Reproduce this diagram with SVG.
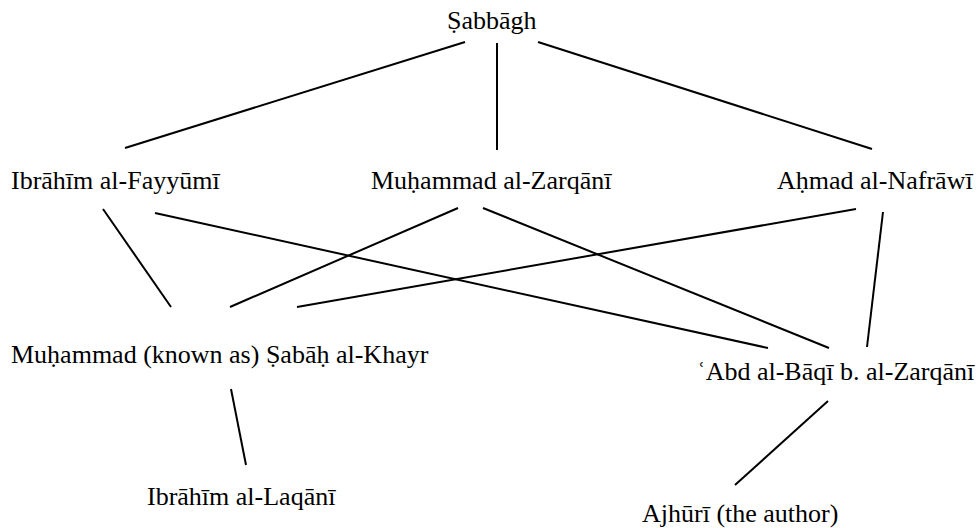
<svg xmlns="http://www.w3.org/2000/svg" width="980" height="528" viewBox="0 0 980 528">
<style>
text { font-family: "Liberation Serif", "Times New Roman", serif; font-size: 26px; fill: #000; }
.c line { stroke: #000; stroke-width: 2; stroke-linecap: butt; }
</style>
<rect width="980" height="528" fill="#fff"/>
<g class="c" id="connectors">
<line x1="465" y1="42" x2="125" y2="148"/>
<line x1="497" y1="43" x2="497" y2="150"/>
<line x1="538" y1="42" x2="872" y2="149"/>
<line x1="103" y1="209" x2="171" y2="307"/>
<line x1="155" y1="213" x2="768" y2="348"/>
<line x1="458" y1="208" x2="230" y2="307"/>
<line x1="483" y1="208" x2="829" y2="348"/>
<line x1="856" y1="209" x2="297" y2="307"/>
<line x1="883" y1="212" x2="867" y2="347"/>
<line x1="231" y1="389" x2="246" y2="465"/>
<line x1="828" y1="401" x2="735" y2="485"/>
</g>
<g id="n-sabbagh"><text x="447" y="29">Ṣabbāgh</text></g>
<g id="n-fayyumi"><text x="11" y="189">Ibrāhīm al-Fayyūmī</text></g>
<g id="n-zarqani"><text x="371" y="189">Muḥammad al-Zarqānī</text></g>
<g id="n-nafrawi"><text x="777" y="189">Aḥmad al-Nafrāwī</text></g>
<g id="n-sabah"><text x="11" y="363">Muḥammad (known as) Ṣabāḥ al-Khayr</text></g>
<g id="n-baqi"><text x="697" y="380">ʿAbd al-Bāqī b. al-Zarqānī</text></g>
<g id="n-laqani"><text x="147" y="505">Ibrāhīm al-Laqānī</text></g>
<g id="n-ajhuri"><text x="642" y="522">Ajhūrī (the author)</text></g>
</svg>
